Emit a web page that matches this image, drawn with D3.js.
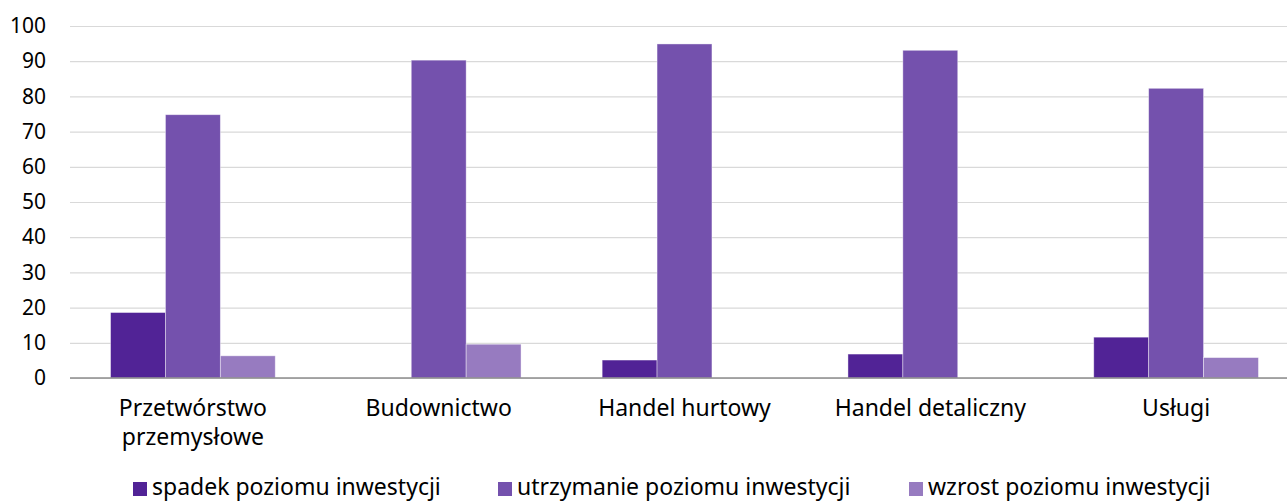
<!DOCTYPE html>
<html>
<head>
<meta charset="utf-8">
<script src="https://cdn.jsdelivr.net/npm/d3@7"></script>
<style>
  body { margin: 0; background: #fff; }
  svg { display: block; font-family: "Noto Sans", sans-serif; }
</style>
</head>
<body>
<div id="chart"></div>
<script>
// data
const categories = [["Przetwórstwo", "przemysłowe"], ["Budownictwo"], ["Handel hurtowy"], ["Handel detaliczny"], ["Usługi"]];
const seriesNames = ["spadek poziomu inwestycji", "utrzymanie poziomu inwestycji", "wzrost poziomu inwestycji"];
const spadek = [18.6, 0, 5.1, 6.8, 11.6];
const utrzymanie = [74.8, 90.3, 94.9, 93.1, 82.3];
const wzrost = [6.3, 9.6, 0, 0, 5.8];
const yTicks = [0, 10, 20, 30, 40, 50, 60, 70, 80, 90, 100];

const colors = ["#512396", "#7451ad", "#977bc0"];
const width = 1287, height = 501;
const series = [spadek, utrzymanie, wzrost];

const svg = d3.select("#chart").append("svg")
    .attr("width", width)
    .attr("height", height);

const keys = categories.map(c => c.join(" "));

const x0 = d3.scaleBand()
    .domain(keys)
    .range([70, 1299])
    .paddingInner(0.33)
    .paddingOuter(0.165);

const x1 = d3.scaleBand()
    .domain(seriesNames)
    .range([0, x0.bandwidth()]);

const y = d3.scaleLinear()
    .domain([0, 100])
    .range([378, 26]);

// grid + y labels
const yAxis = svg.append("g")
    .attr("transform", "translate(70,0)")
    .call(d3.axisLeft(y).tickValues(yTicks).tickSize(-(1299 - 70)).tickPadding(24));
yAxis.select(".domain").remove();
yAxis.attr("font-family", null);
yAxis.selectAll(".tick line").attr("stroke", "#d9d9d9").attr("stroke-width", 1.2);
yAxis.selectAll(".tick text")
    .attr("fill", "#000")
    .style("font-size", "21px");

// bars
const groups = svg.append("g").selectAll("g")
    .data(keys)
    .join("g")
    .attr("transform", d => `translate(${x0(d)},0)`);

groups.selectAll("rect")
    .data((d, i) => seriesNames.map((s, j) => ({ s, j, v: series[j][i] })))
    .join("rect")
    .filter(d => d.v > 0)
    .attr("x", d => x1(d.s))
    .attr("width", x1.bandwidth())
    .attr("y", d => y(d.v))
    .attr("height", d => y(0) - y(d.v))
    .attr("fill", d => colors[d.j])
    .attr("stroke", "#fff")
    .attr("stroke-opacity", 0.5)
    .attr("stroke-width", 0.8);

// baseline
svg.append("line")
    .attr("x1", 70).attr("x2", 1299)
    .attr("y1", y(0)).attr("y2", y(0))
    .attr("stroke", "#8c8c8c")
    .attr("stroke-width", 1.5);

// category labels
const labels = svg.append("g").selectAll("text")
    .data(categories)
    .join("text")
    .attr("x", (d, i) => x0(keys[i]) + x0.bandwidth() / 2)
    .attr("y", 416)
    .attr("text-anchor", "middle")
    .style("font-size", "23px")
    .attr("fill", "#000");
labels.selectAll("tspan")
    .data(d => d)
    .join("tspan")
    .attr("x", function () { return d3.select(this.parentNode).attr("x"); })
    .attr("dy", (d, i) => i === 0 ? 0 : 29)
    .text(d => d);

// legend
const legendX = [133, 498, 909];
const legend = svg.append("g").selectAll("g")
    .data(seriesNames)
    .join("g")
    .attr("transform", (d, i) => `translate(${legendX[i]},482)`);
legend.append("rect")
    .attr("width", 14)
    .attr("height", 14)
    .attr("fill", (d, i) => colors[i]);
legend.append("text")
    .attr("x", 19)
    .attr("y", 13)
    .style("font-size", "23px")
    .attr("fill", "#000")
    .text(d => d);
</script>
</body>
</html>
